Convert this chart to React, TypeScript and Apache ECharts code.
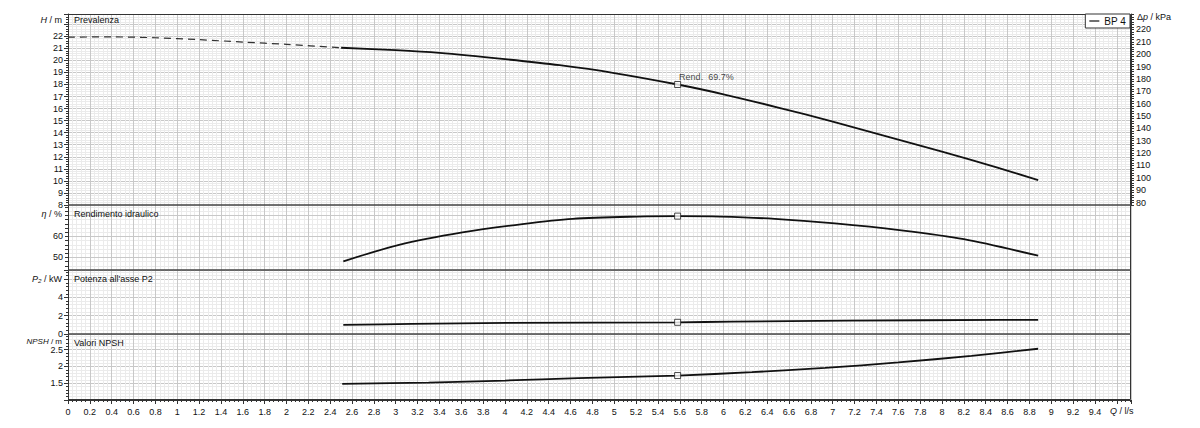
import React, { useEffect, useRef } from 'react';
import * as echarts from 'echarts';

// ---- data ----
const X_MAX = 9.73;

const qHeadDashed = [0, 0.4, 0.8, 1.2, 1.6, 2.0, 2.5];
const headDashed = [21.93, 21.95, 21.88, 21.72, 21.52, 21.33, 21.05];

const qHead = [2.5, 3.0, 3.4, 4.0, 4.5, 5.0, 5.58, 6.0, 6.5, 7.0, 7.5, 8.0, 8.5, 8.88];
const head = [21.05, 20.85, 20.62, 20.1, 19.6, 18.95, 18.0, 17.19, 16.09, 14.92, 13.68, 12.43, 11.12, 10.07];

const qEta = [2.52, 3.03, 3.61, 4.16, 4.62, 5.21, 5.58, 5.97, 6.47, 7.02, 7.61, 8.2, 8.88];
const eta = [48.1, 56.0, 61.9, 65.9, 68.4, 69.5, 69.7, 69.5, 68.4, 66.2, 63.0, 58.7, 50.8];

const qPower = [2.52, 3.15, 4.02, 5.58, 6.08, 7.14, 8.52, 8.88];
const power = [0.99, 1.1, 1.21, 1.28, 1.35, 1.46, 1.54, 1.55];

const qNpsh = [2.51, 3.3, 4.0, 4.67, 5.58, 6.26, 6.93, 7.6, 8.27, 8.88];
const npsh = [1.48, 1.52, 1.58, 1.65, 1.73, 1.83, 1.96, 2.12, 2.32, 2.53];

const bepQ = 5.58;
const bepHead = 18.0;
const bepEta = 69.7;
const bepPower = 1.28;
const bepNpsh = 1.73;
const bepLabel = 'Rend.  69.7%';

const etaMajorLines = [50, 60, 70];
const kPaPerM = 9.75;
const headMin = 8;
const headMax = 23.85;

const seriesName = 'BP 4';
const panelTitles = ['Prevalenza', 'Rendimento idraulico', "Potenza all'asse P2", 'Valori NPSH'];

const zip = (xs: number[], ys: number[]) => xs.map((x, i) => [x, ys[i]]);

const FONT = 'Liberation Sans, Arial, sans-serif';
const FS = 9;
const MAJOR = '#c8c8c8';
const MINOR = '#ebebeb';

// layout of the four stacked panels
const PANEL_LEFT = 68;
const PANEL_RIGHT = 69;
const panels = [
  { top: 14, height: 191 },
  { top: 205, height: 65 },
  { top: 270, height: 64 },
  { top: 334, height: 66 },
];

export default function App() {
  const ref = useRef<HTMLDivElement>(null);

  useEffect(() => {
    const chart = echarts.init(ref.current!, null, { renderer: 'svg' });
    const W = 1200;
    const plotW = W - PANEL_LEFT - PANEL_RIGHT;

    const grids = panels.map((g) => ({
      left: PANEL_LEFT,
      right: PANEL_RIGHT,
      top: g.top,
      height: g.height,
      show: false,
    }));

    const xAxes = [0, 1, 2, 3].map((i) => ({
      type: 'value',
      gridIndex: i,
      min: 0,
      max: X_MAX,
      interval: 0.2,
      axisLine: { show: i === 3, lineStyle: { color: '#333' } },
      axisTick: { show: i === 3, length: 4, lineStyle: { color: '#333' } },
      minorTick: { show: i === 3, splitNumber: 5, length: 2, lineStyle: { color: '#333' } },
      axisLabel: {
        show: i === 3,
        fontSize: FS,
        fontFamily: FONT,
        color: '#111',
        margin: 7,
        showMaxLabel: false,
        formatter: (v: number) => (v > 9.5 ? '' : String(Math.round(v * 10) / 10)),
      },
      splitLine: { show: true, lineStyle: { color: MAJOR, width: 1 } },
      minorSplitLine: { show: true, lineStyle: { color: MINOR, width: 1 } },
    }));

    const labelStyle = { fontSize: FS, fontFamily: FONT, color: '#111', margin: 5 };
    const near = (a: number, b: number) => Math.abs(a - b) < 1e-6;

    const yAxes: any[] = [
      {
        type: 'value',
        gridIndex: 0,
        position: 'left',
        min: headMin,
        max: headMax,
        interval: 1,
        axisLine: { show: true, lineStyle: { color: '#333' } },
        axisTick: { show: true, length: 4, lineStyle: { color: '#333' } },
        minorTick: { show: true, splitNumber: 5, length: 2, lineStyle: { color: '#333' } },
        axisLabel: {
          ...labelStyle,
          showMaxLabel: false,
          formatter: (v: number) => (v > 22.01 ? '' : String(Math.round(v))),
        },
        splitLine: { show: true, lineStyle: { color: MAJOR } },
        minorSplitLine: { show: true, lineStyle: { color: MINOR } },
      },
      {
        type: 'value',
        gridIndex: 0,
        position: 'right',
        min: 78,
        max: headMax * kPaPerM,
        interval: 2,
        axisLine: { show: true, lineStyle: { color: '#333' } },
        axisTick: { show: true, length: 3, lineStyle: { color: '#333' } },
        axisLabel: {
          ...labelStyle,
          showMaxLabel: false,
          formatter: (v: number) => {
            const r = Math.round(v / 10) * 10;
            return near(v, r) && r >= 80 && r <= 220 ? String(r) : '';
          },
        },
        splitLine: { show: false },
      },
      {
        type: 'value',
        gridIndex: 1,
        min: 44,
        max: 75,
        interval: 2,
        axisLine: { show: true, lineStyle: { color: '#333' } },
        axisTick: { show: true, length: 3, lineStyle: { color: '#333' } },
        axisLabel: {
          ...labelStyle,
          showMaxLabel: false,
          formatter: (v: number) => (near(v, 50) || near(v, 60) ? String(v) : ''),
        },
        splitLine: { show: true, lineStyle: { color: MINOR } },
      },
      {
        type: 'value',
        gridIndex: 2,
        min: 0,
        max: 7,
        interval: 2,
        axisLine: { show: true, lineStyle: { color: '#333' } },
        axisTick: { show: true, length: 4, lineStyle: { color: '#333' } },
        minorTick: { show: true, splitNumber: 5, length: 2, lineStyle: { color: '#333' } },
        axisLabel: {
          ...labelStyle,
          showMaxLabel: false,
          formatter: (v: number) => (v > 4.5 ? '' : String(v)),
        },
        splitLine: { show: true, lineStyle: { color: MAJOR } },
        minorSplitLine: { show: true, lineStyle: { color: MINOR } },
      },
      {
        type: 'value',
        gridIndex: 3,
        min: 1,
        max: 2.97,
        interval: 0.5,
        axisLine: { show: true, lineStyle: { color: '#333' } },
        axisTick: { show: true, length: 4, lineStyle: { color: '#333' } },
        minorTick: { show: true, splitNumber: 5, length: 2, lineStyle: { color: '#333' } },
        axisLabel: {
          ...labelStyle,
          showMaxLabel: false,
          showMinLabel: false,
          formatter: (v: number) => (v < 1.2 || v > 2.6 ? '' : String(v)),
        },
        splitLine: { show: true, lineStyle: { color: MAJOR } },
        minorSplitLine: { show: true, lineStyle: { color: MINOR } },
      },
    ];

    const curve = (name: string, xi: number, yi: number, data: number[][], extra: any = {}) => ({
      type: 'line',
      name,
      xAxisIndex: xi,
      yAxisIndex: yi,
      data,
      smooth: 0.3,
      symbol: 'none',
      silent: true,
      itemStyle: { color: '#111' },
      lineStyle: { color: '#111', width: 1.8 },
      z: 5,
      ...extra,
    });

    const marker = (xi: number, yi: number, y: number, label?: string) => ({
      type: 'scatter',
      name: 'bep' + xi,
      xAxisIndex: xi,
      yAxisIndex: yi,
      data: [[bepQ, y]],
      symbol: 'rect',
      symbolSize: 6,
      silent: true,
      z: 10,
      itemStyle: { color: '#fff', borderColor: '#222', borderWidth: 1 },
      label: label
        ? {
            show: true,
            formatter: label,
            position: [5, -4],
            align: 'left',
            verticalAlign: 'middle',
            fontSize: FS,
            fontFamily: FONT,
            color: '#111',
          }
        : { show: false },
    });

    const txt = (x: number, y: number, text: string, align: string, rich?: any, fs: number = FS) => ({
      type: 'text',
      x,
      y,
      z: 100,
      silent: true,
      style: {
        text,
        fill: '#111',
        fontSize: fs,
        fontFamily: FONT,
        align,
        verticalAlign: 'middle',
        rich,
      },
    });
    const italic = (fs: number = FS) => ({
      i: { fontStyle: 'italic', fontSize: fs, fontFamily: FONT, fill: '#111' },
    });

    // panel frames and dividers drawn above the grid lines
    const frames: any[] = [
      {
        type: 'rect',
        z: 50,
        silent: true,
        shape: {
          x: PANEL_LEFT + 0.5,
          y: panels[0].top + 0.5,
          width: plotW - 1,
          height: panels[3].top + panels[3].height - panels[0].top - 1,
        },
        style: { fill: 'none', stroke: '#333', lineWidth: 1 },
      },
      ...panels.slice(1).map((p) => ({
        type: 'line',
        z: 50,
        silent: true,
        shape: { x1: PANEL_LEFT, y1: p.top, x2: PANEL_LEFT + plotW, y2: p.top },
        style: { stroke: '#444', lineWidth: 1.6 },
      })),
    ];

    const option: any = {
      animation: false,
      backgroundColor: '#fff',
      textStyle: { fontFamily: FONT },
      grid: grids,
      xAxis: xAxes,
      yAxis: yAxes,
      legend: {
        data: [seriesName],
        right: 70,
        top: 14,
        padding: [2, 4, 2, 4],
        borderColor: '#333',
        borderWidth: 1,
        backgroundColor: '#fff',
        icon: 'rect',
        itemWidth: 10,
        itemHeight: 1.2,
        itemGap: 4,
        textStyle: { fontSize: FS + 1, fontFamily: FONT, color: '#111' },
        z: 60,
      },
      series: [
        curve('dashed', 0, 0, zip(qHeadDashed, headDashed), {
          lineStyle: { color: '#333', width: 1.2, type: [7, 5] },
        }),
        curve(seriesName, 0, 0, zip(qHead, head)),
        curve('eta', 1, 2, zip(qEta, eta), {
          markLine: {
            silent: true,
            symbol: 'none',
            label: { show: false },
            lineStyle: { color: MAJOR, type: 'solid', width: 1 },
            z: 1,
            data: etaMajorLines.map((v) => ({ yAxis: v })),
          },
        }),
        curve('power', 2, 3, zip(qPower, power)),
        curve('npsh', 3, 4, zip(qNpsh, npsh)),
        marker(0, 0, bepHead, bepLabel),
        marker(1, 2, bepEta),
        marker(2, 3, bepPower),
        marker(3, 4, bepNpsh),
      ],
      graphic: [
        ...frames,
        txt(62, 20, '{i|H} / m', 'right', italic()),
        txt(62, 214, '{i|η} / %', 'right', italic()),
        txt(62, 279, '{i|P₂} / kW', 'right', italic()),
        txt(62, 341.5, '{i|NPSH} / m', 'right', italic(8), 8),
        txt(1137, 17, 'Δ{i|p} / kPa', 'left', italic()),
        txt(1110, 411, '{i|Q} / l/s', 'left', italic()),
        txt(74, 20, panelTitles[0], 'left'),
        txt(74, 214, panelTitles[1], 'left'),
        txt(74, 279, panelTitles[2], 'left'),
        txt(74, 343, panelTitles[3], 'left'),
      ],
    };

    chart.setOption(option);
    return () => chart.dispose();
  }, []);

  return (
    <div
      ref={ref}
      style={{ position: 'absolute', left: 0, top: 0, width: 1200, height: 428 }}
    />
  );
}
